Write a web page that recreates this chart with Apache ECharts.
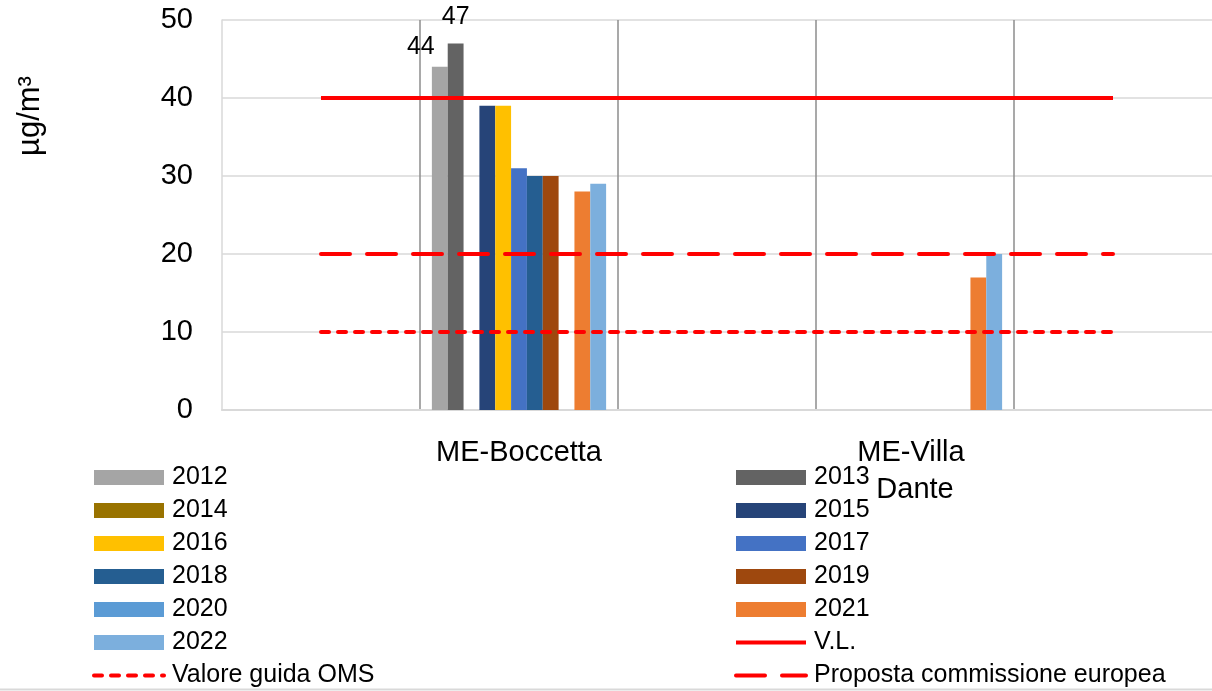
<!DOCTYPE html>
<html>
<head>
<meta charset="utf-8">
<script src="https://cdn.jsdelivr.net/npm/echarts@6/dist/echarts.min.js"></script>
<style>
html,body{margin:0;padding:0;background:#fff;}
#main{width:1212px;height:691px;}
</style>
</head>
<body>
<div id="main"></div>
<script>
// ---- data ----
const categories = ['', 'ME-Boccetta', '', 'ME-Villa Dante', ''];
const years = ['2012','2013','2014','2015','2016','2017','2018','2019','2020','2021','2022'];
const y2012 = [null, 44, null, null, null];
const y2013 = [null, 47, null, null, null];
const y2014 = [null, null, null, null, null];
const y2015 = [null, 39, null, null, null];
const y2016 = [null, 39, null, null, null];
const y2017 = [null, 31, null, null, null];
const y2018 = [null, 30, null, null, null];
const y2019 = [null, 30, null, null, null];
const y2020 = [null, null, null, null, null];
const y2021 = [null, 28, null, 17, null];
const y2022 = [null, 29, null, 20, null];
const valoreLimite = [40, 40, 40, 40, 40];
const valoreGuidaOMS = [10, 10, 10, 10, 10];
const propostaCE = [20, 20, 20, 20, 20];
const yTicks = [0, 10, 20, 30, 40, 50];

const yearData = [y2012,y2013,y2014,y2015,y2016,y2017,y2018,y2019,y2020,y2021,y2022];
const yearColors = ['#a5a5a5','#636363','#997300','#264478','#ffc000','#4472c4','#255e91','#9e480e','#5b9bd5','#ed7d31','#7cafdd'];

const FONT = 'Liberation Sans';

const barSeries = years.map((y, i) => {
  const s = {
    name: y,
    type: 'bar',
    data: yearData[i],
    itemStyle: { color: yearColors[i] },
    barGap: '0%',
    barCategoryGap: '12%',
    z: 2
  };
  if (i === 0) {
    s.label = { show: true, position: 'top', distance: 7, offset: [-19, 0], fontFamily: FONT, fontSize: 25, color: '#000' };
  } else if (i === 1) {
    s.label = { show: true, position: 'top', distance: 14, fontFamily: FONT, fontSize: 25, color: '#000' };
  }
  return s;
});

const TRANSPARENT = 'rgba(0,0,0,0)';
const lineSeries = [
  { name: 'V.L.', type: 'line', data: valoreLimite, symbol: 'none', z: 5,
    lineStyle: { color: '#ff0000', width: 4, type: 'solid' }, itemStyle: { color: TRANSPARENT } },
  { name: 'Valore guida OMS', type: 'line', data: valoreGuidaOMS, symbol: 'none', z: 5,
    lineStyle: { color: '#ff0000', width: 4, type: [8, 9], cap: 'round' }, itemStyle: { color: TRANSPARENT } },
  { name: 'Proposta commissione europea', type: 'line', data: propostaCE, symbol: 'none', z: 5,
    lineStyle: { color: '#ff0000', width: 4, type: [29, 17], cap: 'round' }, itemStyle: { color: TRANSPARENT } }
];

const legendText = { fontFamily: FONT, fontSize: 25, color: '#000', lineHeight: 25, padding: [0, 0, 0, 3] };
const legendItem = (name) => (years.indexOf(name) >= 0 ? { name: name, icon: 'rect' } : { name: name });

const chart = echarts.init(document.getElementById('main'), null, { renderer: 'canvas' });
chart.setOption({
  animation: false,
  backgroundColor: '#fff',
  textStyle: { fontFamily: FONT },
  grid: { left: 222, right: 0, top: 20, bottom: 281, containLabel: false },
  xAxis: {
    type: 'category',
    data: categories,
    boundaryGap: true,
    axisLine: { show: true, lineStyle: { color: '#d9d9d9', width: 2 } },
    axisTick: { show: false },
    axisLabel: { interval: 0, fontFamily: FONT, fontSize: 29, color: '#000', margin: 24, lineHeight: 37, width: 180, overflow: 'break' },
    splitLine: { show: true, showMinLine: false, showMaxLine: false, lineStyle: { color: '#8c8c8c', width: 1.5 } }
  },
  yAxis: {
    type: 'value',
    min: yTicks[0],
    max: yTicks[yTicks.length - 1],
    interval: 10,
    axisLine: { show: true, lineStyle: { color: '#d9d9d9', width: 1.5 } },
    axisTick: { show: false },
    axisLabel: { fontFamily: FONT, fontSize: 29, color: '#000', margin: 29 },
    splitLine: { show: true, lineStyle: { color: '#d9d9d9', width: 1.5 } }
  },
  legend: [
    {
      orient: 'vertical', left: 92, top: 465, height: 320, padding: 0, itemWidth: 70, itemHeight: 15, itemGap: 8,
      data: ['2012','2014','2016','2018','2020','2022','Valore guida OMS'].map(legendItem),
      lineStyle: { width: 4 },
      textStyle: legendText
    },
    {
      orient: 'vertical', left: 734, top: 465, height: 320, padding: 0, itemWidth: 70, itemHeight: 15, itemGap: 8,
      data: ['2013','2015','2017','2019','2021','V.L.','Proposta commissione europea'].map(legendItem),
      lineStyle: { width: 4 },
      textStyle: legendText
    }
  ],
  graphic: [
    { type: 'text', x: 30, y: 116, rotation: Math.PI / 2,
      style: { text: 'µg/m³', font: '31px "Liberation Sans"', fill: '#000', align: 'center', verticalAlign: 'middle' } },
    { type: 'line', shape: { x1: 0, y1: 689.5, x2: 1212, y2: 689.5 }, style: { stroke: '#d9d9d9', lineWidth: 2 } }
  ],
  series: barSeries.concat(lineSeries)
});
</script>
</body>
</html>
